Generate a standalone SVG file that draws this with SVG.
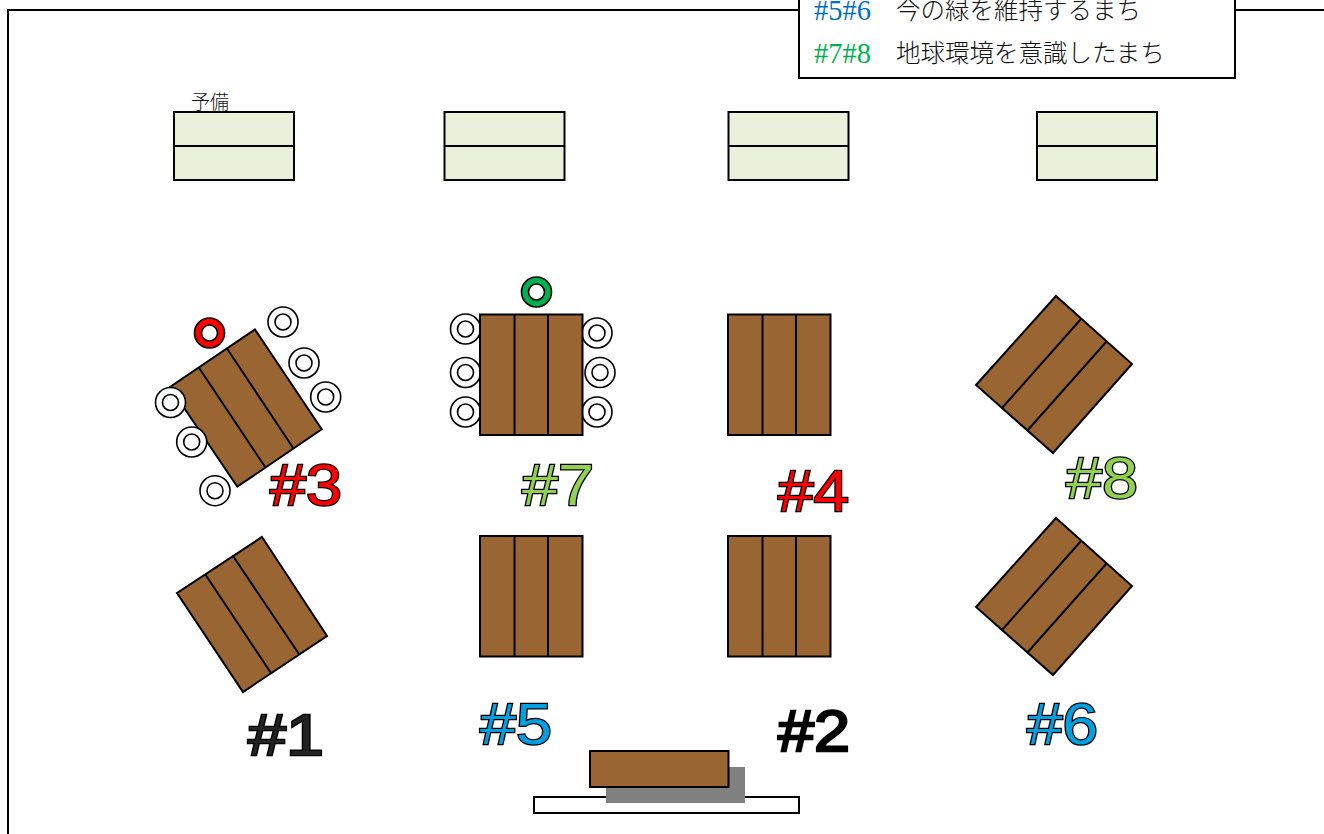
<svg xmlns="http://www.w3.org/2000/svg" width="1324" height="834" viewBox="0 0 1324 834">
<style>
.tb{fill:#996633;stroke:#000;stroke-width:2}
.ln{stroke:#000;stroke-width:2;fill:none}
.sp{fill:#E9F1DC;stroke:#000;stroke-width:2}
.ch{fill:#fff;stroke:#000;stroke-width:1.6}
.lb{font-family:"Liberation Sans",Arial,sans-serif;font-size:57px;stroke:#000;stroke-width:2.4;paint-order:stroke}
.jp{font-family:"Noto Sans CJK JP",sans-serif;font-weight:300;fill:#111}
.en{font-family:"Liberation Serif",serif;font-size:29px}
</style>
<defs>
<g id="chair"><circle class="ch" r="15"/><circle class="ch" r="8"/></g>
<g id="spare"><rect class="sp" x="0" y="0" width="120" height="68"/><path class="ln" d="M0 34H120"/></g>
<g id="vtable"><rect class="tb" x="0" y="0" width="102.500" height="120.500"/><path class="ln" d="M34.500 0V120.500M68 0V120.500"/></g>
<g id="dtable"><path class="tb" d="M1056 296L1132 364L1053 453L976 385Z"/><path class="ln" d="M1002 408L1081 319M1027 431L1107 341"/></g>
</defs>
<rect id="room" x="8" y="10" width="1340" height="860" fill="#fff" stroke="#000" stroke-width="2"/>
<g id="legend">
<rect x="799" y="-20" width="436" height="98" fill="#fff" stroke="#000" stroke-width="2"/>
<text class="en" x="814" y="20" fill="#0070C0" textLength="57" lengthAdjust="spacingAndGlyphs">#5#6</text>
<text class="jp" x="896" y="19" font-size="24.500">今の緑を維持するまち</text>
<text class="en" x="814" y="63" fill="#00B050" textLength="57" lengthAdjust="spacingAndGlyphs">#7#8</text>
<text class="jp" x="896" y="62" font-size="24.500">地球環境を意識したまち</text>
</g>
<g id="spare1"><use href="#spare" x="174" y="112"/><text class="jp" x="191" y="109" font-size="19">予備</text></g>
<g id="spare2"><use href="#spare" x="444.500" y="112"/></g>
<g id="spare3"><use href="#spare" x="728.500" y="112"/></g>
<g id="spare4"><use href="#spare" x="1037" y="112"/></g>
<g id="table3">
<path class="tb" d="M255 329.500L321.700 429.300L237.300 486.700L170 387Z"/>
<path class="ln" d="M199 367.700L265 466.700M227.300 349L293.300 448.300"/>
<circle r="15" cx="209.500" cy="333" fill="#FF0000" stroke="#000" stroke-width="1.600"/><circle class="ch" r="8" cx="209.500" cy="333"/>
<use href="#chair" x="283" y="322"/><use href="#chair" x="304" y="363"/><use href="#chair" x="325.700" y="397"/>
<use href="#chair" x="170.500" y="402.500"/><use href="#chair" x="191.700" y="442"/><use href="#chair" x="215" y="490.700"/>
<text class="lb" x="270" y="505" fill="#FF0000" textLength="72" lengthAdjust="spacingAndGlyphs">#3</text>
</g>
<g id="table7">
<use href="#chair" x="465.500" y="329"/><use href="#chair" x="465.500" y="372.500"/><use href="#chair" x="465.500" y="412"/>
<use href="#chair" x="597" y="333"/><use href="#chair" x="600" y="372.500"/><use href="#chair" x="597" y="412"/>
<use href="#vtable" x="480" y="314.500"/>
<circle r="15" cx="536.500" cy="292" fill="#00B050" stroke="#000" stroke-width="1.600"/><circle class="ch" r="8" cx="536.500" cy="292"/>
<text class="lb" x="522" y="505" fill="#92D050" textLength="72" lengthAdjust="spacingAndGlyphs">#7</text>
</g>
<g id="table4"><use href="#vtable" x="728" y="314.500"/><text class="lb" x="778" y="511" fill="#FF0000" textLength="71" lengthAdjust="spacingAndGlyphs">#4</text></g>
<g id="table8"><use href="#dtable"/><text class="lb" x="1066" y="498" fill="#92D050" textLength="72" lengthAdjust="spacingAndGlyphs">#8</text></g>
<g id="table1">
<path class="tb" d="M262 537L327 636L243 692L177 593Z"/><path class="ln" d="M205 574L271 673M233 556L299 654"/>
<text class="lb" x="248" y="755" fill="#222" textLength="76" lengthAdjust="spacingAndGlyphs">#1</text>
</g>
<g id="table5"><use href="#vtable" x="480" y="536"/><text class="lb" x="480" y="744" fill="#00A0E0" textLength="72" lengthAdjust="spacingAndGlyphs">#5</text></g>
<g id="table2"><use href="#vtable" x="728" y="536"/><text class="lb" x="778" y="751" fill="#000" textLength="72" lengthAdjust="spacingAndGlyphs">#2</text></g>
<g id="table6"><use href="#dtable" y="222"/><text class="lb" x="1027" y="744" fill="#00A0E0" textLength="71" lengthAdjust="spacingAndGlyphs">#6</text></g>
<g id="podium">
<rect x="534" y="797" width="265" height="16" fill="#fff" stroke="#000" stroke-width="2"/>
<rect x="606" y="767" width="139" height="36" fill="#808080"/>
<rect class="tb" x="590" y="751" width="138.500" height="36"/>
</g>
<g id="connectors"/>
</svg>
